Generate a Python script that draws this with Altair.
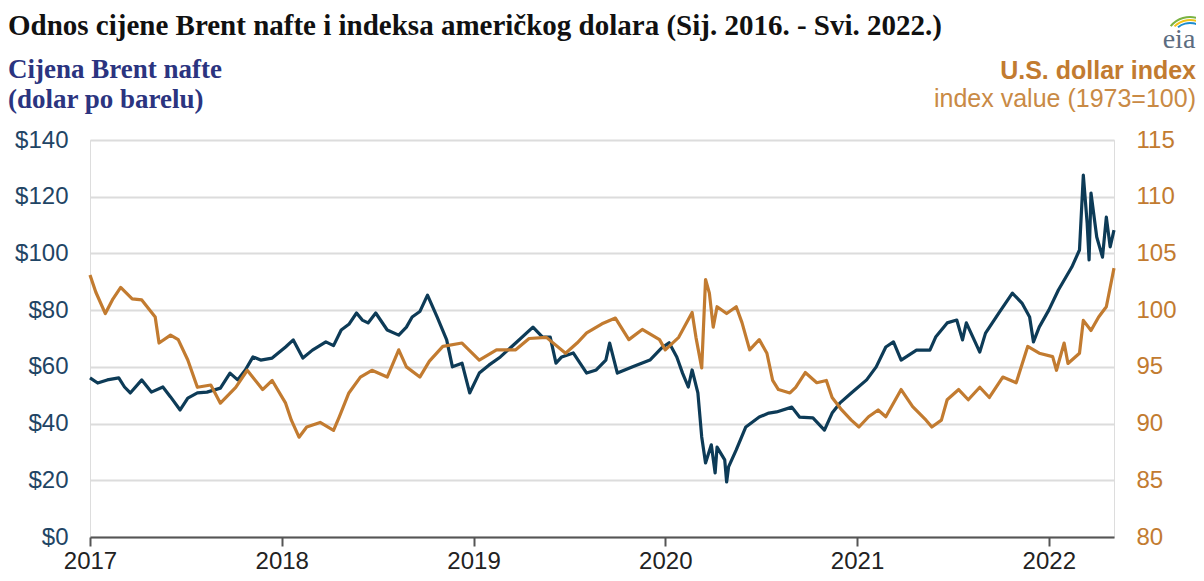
import altair as alt
import pandas as pd

# ---- data (decimal years) ----
brent_t = [2017.00, 2017.04, 2017.09, 2017.15, 2017.18, 2017.21, 2017.27, 2017.32, 2017.38, 2017.42,
           2017.47, 2017.51, 2017.56, 2017.61, 2017.68, 2017.73, 2017.77, 2017.81, 2017.85, 2017.89,
           2017.95, 2018.02, 2018.06, 2018.11, 2018.16, 2018.23, 2018.27, 2018.31, 2018.35, 2018.39,
           2018.42, 2018.45, 2018.49, 2018.55, 2018.61, 2018.65, 2018.68, 2018.72, 2018.76, 2018.81,
           2018.86, 2018.89, 2018.94, 2018.98, 2019.03, 2019.08, 2019.14, 2019.22, 2019.31, 2019.36,
           2019.40, 2019.43, 2019.46, 2019.52, 2019.59, 2019.64, 2019.69, 2019.71, 2019.75, 2019.83,
           2019.92, 2019.98, 2020.02, 2020.06, 2020.09, 2020.12, 2020.14, 2020.17, 2020.19, 2020.21,
           2020.24, 2020.26, 2020.27, 2020.31, 2020.32, 2020.33, 2020.37, 2020.42, 2020.49, 2020.54,
           2020.58, 2020.66, 2020.70, 2020.77, 2020.83, 2020.87, 2020.91, 2020.97, 2021.05, 2021.10,
           2021.15, 2021.19, 2021.23, 2021.31, 2021.38, 2021.41, 2021.47, 2021.52, 2021.55, 2021.57,
           2021.64, 2021.67, 2021.74, 2021.81, 2021.86, 2021.90, 2021.92, 2021.95, 2022.00, 2022.05,
           2022.12, 2022.16, 2022.18, 2022.20, 2022.21, 2022.22, 2022.25, 2022.28, 2022.30, 2022.32,
           2022.34]
brent_v = [56.1, 54.3, 55.4, 56.1, 52.9, 50.8, 55.4, 51.1, 52.9, 49.4,
           44.8, 49.0, 50.8, 51.1, 52.5, 57.8, 55.4, 58.9, 63.5, 62.4,
           63.1, 67.0, 69.5, 63.1, 65.9, 68.8, 67.5, 73.0, 75.0, 79.0,
           76.5, 75.5, 79.0, 73.0, 71.2, 74.0, 77.6, 79.5, 85.3, 77.6,
           69.5, 60.0, 61.3, 50.8, 57.8, 60.6, 63.5, 68.4, 74.0, 70.5,
           70.5, 61.3, 63.5, 64.9, 57.8, 58.9, 62.4, 68.4, 57.8, 60.0,
           62.4, 66.6, 68.5, 63.5, 57.8, 52.9, 58.9, 50.8, 35.3, 26.1,
           32.5, 22.6, 31.7, 27.2, 19.4, 24.7, 30.7, 38.8, 42.3, 43.7,
           44.1, 45.8, 42.3, 42.0, 37.7, 43.7, 47.2, 50.8, 55.4, 60.0,
           67.0, 68.8, 62.4, 65.9, 65.9, 70.5, 75.5, 76.5, 69.5, 75.5,
           65.2, 71.9, 79.0, 86.0, 82.5, 77.6, 68.8, 74.0, 80.0, 87.1,
           95.2, 101.2, 127.6, 110.7, 97.7, 121.3, 105.8, 98.7, 112.8, 102.3,
           108.2]

usd_t = [2017.00, 2017.03, 2017.08, 2017.12, 2017.16, 2017.22, 2017.27, 2017.34, 2017.36, 2017.42,
         2017.46, 2017.51, 2017.56, 2017.63, 2017.68, 2017.76, 2017.82, 2017.90, 2017.95, 2018.02,
         2018.05, 2018.09, 2018.13, 2018.20, 2018.27, 2018.30, 2018.35, 2018.41, 2018.47, 2018.55,
         2018.61, 2018.65, 2018.72, 2018.77, 2018.84, 2018.94, 2019.03, 2019.12, 2019.22, 2019.29,
         2019.38, 2019.48, 2019.54, 2019.59, 2019.67, 2019.74, 2019.81, 2019.88, 2019.97, 2020.00,
         2020.07, 2020.14, 2020.16, 2020.19, 2020.21, 2020.23, 2020.25, 2020.27, 2020.32, 2020.37,
         2020.40, 2020.44, 2020.49, 2020.53, 2020.56, 2020.59, 2020.65, 2020.68, 2020.73, 2020.79,
         2020.84, 2020.87, 2020.92, 2020.97, 2021.01, 2021.06, 2021.11, 2021.15, 2021.23, 2021.29,
         2021.36, 2021.39, 2021.44, 2021.47, 2021.53, 2021.58, 2021.64, 2021.69, 2021.76, 2021.83,
         2021.89, 2021.95, 2022.02, 2022.04, 2022.08, 2022.10, 2022.16, 2022.18, 2022.22, 2022.26,
         2022.30, 2022.32, 2022.34]
usd_v = [103.1, 101.6, 99.7, 101.0, 102.0, 101.0, 100.9, 99.4, 97.1, 97.8,
         97.4, 95.6, 93.2, 93.4, 91.8, 93.2, 94.7, 93.0, 93.8, 91.8,
         90.3, 88.8, 89.7, 90.1, 89.4, 90.6, 92.7, 94.1, 94.7, 94.1,
         96.5, 95.0, 94.1, 95.5, 96.8, 97.1, 95.6, 96.5, 96.5, 97.5,
         97.6, 96.2, 97.1, 98.0, 98.8, 99.3, 97.4, 98.3, 97.4, 96.5,
         97.6, 99.8, 97.6, 94.9, 102.7, 101.5, 98.5, 100.3, 99.7, 100.3,
         98.9, 96.5, 97.4, 96.2, 93.8, 93.0, 92.7, 93.2, 94.5, 93.6,
         93.8, 92.3, 91.2, 90.3, 89.7, 90.6, 91.2, 90.6, 93.0, 91.5,
         90.3, 89.7, 90.3, 92.1, 93.0, 92.1, 93.2, 92.3, 94.1, 93.6,
         96.8, 96.2, 95.9, 94.7, 97.1, 95.3, 96.2, 99.1, 98.2, 99.4,
         100.3, 102.0, 103.7]

years = [2017, 2018, 2019, 2020, 2021, 2022]
left_ticks = [0, 20, 40, 60, 80, 100, 120, 140]
right_ticks = [80, 85, 90, 95, 100, 105, 110, 115]

title_text = "Odnos cijene Brent nafte i indeksa američkog dolara (Sij. 2016. - Svi. 2022.)"
left_title = ["Cijena Brent nafte", "(dolar po barelu)"]
right_title = ["U.S. dollar index", "index value (1973=100)"]

BRENT = "#0d3b57"
USD = "#c27b30"
NAVY = "#2b3480"

brent_df = pd.DataFrame({"t": brent_t, "v": brent_v})
usd_df = pd.DataFrame({"t": usd_t, "v": usd_v})
one = pd.DataFrame({"a": [0]})

W, H = 1024, 397
xscale = alt.Scale(domain=[2017, 2022.34], nice=False, zero=False)
xaxis = alt.Axis(values=years, format="d", grid=False, domainColor="#555555",
                 domainWidth=2, tickColor="#555555", tickWidth=2, tickSize=9,
                 labelFont="Liberation Sans", labelFontSize=24, labelColor="#222222",
                 labelPadding=3, labelFlush=False, orient="bottom")

brent = alt.Chart(brent_df).mark_line(color=BRENT, strokeWidth=3.2, strokeJoin="round").encode(
    x=alt.X("t:Q", scale=xscale, title=None, axis=xaxis),
    y=alt.Y("v:Q", scale=alt.Scale(domain=[0, 140], nice=False), title=None,
            axis=alt.Axis(values=left_ticks, labelExpr="'$' + datum.value", orient="left",
                          domain=False, ticks=False, grid=True, gridColor="#dcdcdc",
                          gridWidth=2, labelFont="Liberation Sans", labelFontSize=24,
                          labelColor="#1f4565", labelPadding=22)),
)

usd = alt.Chart(usd_df).mark_line(color=USD, strokeWidth=3.2, strokeJoin="round").encode(
    x=alt.X("t:Q", scale=xscale, title=None, axis=xaxis),
    y=alt.Y("v:Q", scale=alt.Scale(domain=[80, 115], nice=False), title=None,
            axis=alt.Axis(values=right_ticks, orient="right", domain=False, ticks=False,
                          grid=False, labelFont="Liberation Sans", labelFontSize=24,
                          labelColor=USD, labelPadding=22)),
)


def txt(text, x, y, size, color, font, weight="normal", align="left"):
    return alt.Chart(one).mark_text(
        text=text, align=align, baseline="alphabetic", fontSize=size, color=color,
        font=font, fontWeight=weight,
    ).encode(x=alt.value(x), y=alt.value(y))


texts = [
    txt(title_text, -82, -105, 29, "#111111", "Liberation Serif", "bold"),
    txt(left_title[0], -82, -62, 27, NAVY, "Liberation Serif", "bold"),
    txt(left_title[1], -82, -32, 27, NAVY, "Liberation Serif", "bold"),
    txt(right_title[0], 1106, -61, 25, USD, "Liberation Sans", "bold", "right"),
    txt(right_title[1], 1106, -33, 25, "#c98a45", "Liberation Sans", "normal", "right"),
    txt("eia", 1089, -92, 28, "#5c6c80", "Liberation Serif", "normal", "center"),
]

arcs = [
    alt.Chart(one).mark_arc(radius=26, radius2=24, theta=5.4, theta2=6.6, color="#7bb342").encode(
        x=alt.value(1100), y=alt.value(-98)),
    alt.Chart(one).mark_arc(radius=23, radius2=21, theta=5.5, theta2=6.8, color="#f2c318").encode(
        x=alt.value(1100), y=alt.value(-98)),
    alt.Chart(one).mark_arc(radius=20, radius2=18, theta=5.6, theta2=7.3, color="#1d8ccf").encode(
        x=alt.value(1100), y=alt.value(-98)),
]

lines = alt.layer(brent, usd).resolve_scale(y="independent")

chart = alt.layer(lines, *texts, *arcs).properties(
    width=W, height=H,
    padding={"left": 82, "top": 132, "right": 82, "bottom": 36},
    autosize=alt.AutoSizeParams(type="none"),
).configure_view(stroke=None).configure(background="white")

chart.save("out.html", embed_options={"renderer": "svg", "actions": False})
